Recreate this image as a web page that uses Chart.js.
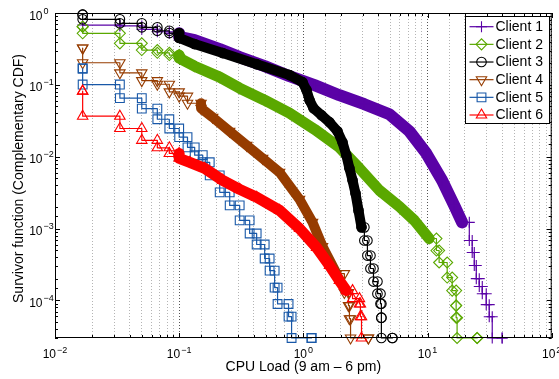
<!DOCTYPE html>
<html>
<head>
<meta charset="utf-8">
<script src="https://cdn.jsdelivr.net/npm/chart.js@4.4.1/dist/chart.umd.min.js"></script>
<style>
  html, body { margin: 0; padding: 0; background: #fff; }
  #wrap { width: 559px; height: 379px; position: relative; }
</style>
</head>
<body>
<div id="wrap"><canvas id="myChart"></canvas></div>
<script>
// CPU load (x) and survivor function (y) for each client
const c1Load = [0.0167, 0.0333, 0.05, 0.0667, 0.0833, 0.1, 0.133, 0.212, 0.307, 0.488, 0.774, 1.23, 1.95, 3.10, 4.93, 7.14, 9.78, 13.1, 16.4, 19.0, 21.7, 22.9, 23.8, 24.7, 26.1, 27.6, 29.7, 31.4, 33.2, 39.9];
const c1Surv = [0.68, 0.66, 0.593, 0.548, 0.521, 0.467, 0.42, 0.315, 0.243, 0.182, 0.132, 0.099, 0.0718, 0.0538, 0.039, 0.0226, 0.0111, 0.00469, 0.0021, 0.00122, 0.000682, 0.000464, 0.000306, 0.000201, 0.000156, 0.000124, 0.0000873, 0.0000594, 0.00003, 0.00003];

const c2Load = [0.0167, 0.0167, 0.0333, 0.05, 0.0667, 0.0833, 0.1, 0.133, 0.212, 0.307, 0.488, 0.774, 1.23, 1.95, 2.83, 4.10, 5.93, 7.83, 10.3, 11.8, 12.4, 14.4, 15.8, 17.0, 17.0, 17.3, 25.1];
const c2Surv = [0.644, 0.521, 0.378, 0.305, 0.279, 0.26, 0.236, 0.182, 0.128, 0.0899, 0.0612, 0.0403, 0.0241, 0.0135, 0.00689, 0.0034, 0.00203, 0.0013, 0.000727, 0.000495, 0.000337, 0.000208, 0.000137, 0.0000847, 0.0000575, 0.00003, 0.00003];

const c3Load = [0.0167, 0.0167, 0.0333, 0.05, 0.0667, 0.0833, 0.1, 0.133, 0.224, 0.421, 0.774, 0.985, 1.061, 1.122, 1.208, 1.401, 1.624, 1.883, 2.066, 2.22, 2.35, 2.49, 2.63, 2.78, 2.94, 3.10, 3.28, 3.47, 3.67, 3.95, 4.18, 4.25, 4.25, 5.21];
const c3Surv = [0.947, 0.817, 0.718, 0.632, 0.566, 0.526, 0.45, 0.37, 0.277, 0.194, 0.137, 0.109, 0.0844, 0.0612, 0.0473, 0.0378, 0.0302, 0.0226, 0.0159, 0.01046, 0.00689, 0.00469, 0.00309, 0.00179, 0.00104, 0.000682, 0.000421, 0.000278, 0.000183, 0.000124, 0.0000901, 0.0000575, 0.00003, 0.00003];

const c4Load = [0.0167, 0.0167, 0.0333, 0.05, 0.0667, 0.0833, 0.1, 0.1167, 0.15, 0.186, 0.255, 0.35, 0.47, 0.644, 0.932, 1.186, 1.427, 1.849, 2.14, 2.31, 2.35, 2.40, 3.34];
const c4Surv = [0.325, 0.203, 0.147, 0.1145, 0.102, 0.0798, 0.0696, 0.0555, 0.0473, 0.0354, 0.0226, 0.0144, 0.0095, 0.00606, 0.00255, 0.00122, 0.000563, 0.000236, 0.000129, 0.0000847, 0.0000557, 0.00003, 0.00003];

const c5Load = [0.0167, 0.0167, 0.0333, 0.05, 0.0667, 0.0833, 0.1, 0.1167, 0.1333, 0.1548, 0.1762, 0.212, 0.2552, 0.307, 0.3694, 0.4206, 0.488, 0.535, 0.587, 0.62, 0.76, 0.804, 1.164];
const c5Surv = [0.169, 0.101, 0.0653, 0.0466, 0.0332, 0.0247, 0.0187, 0.0135, 0.0105, 0.00836, 0.0055, 0.00319, 0.0021, 0.0013, 0.000855, 0.0006, 0.000383, 0.00026, 0.000151, 0.0000893, 0.0000594, 0.00003, 0.00003];

const c6Load = [0.0167, 0.0167, 0.0333, 0.05, 0.0667, 0.0833, 0.1, 0.1217, 0.1606, 0.224, 0.307, 0.421, 0.644, 0.932, 1.277, 1.624, 1.95, 2.22, 2.49, 2.83, 2.88, 2.94];
const c6Surv = [0.0817, 0.0366, 0.0247, 0.0169, 0.0133, 0.0111, 0.0095, 0.00836, 0.00689, 0.00469, 0.00351, 0.00272, 0.00179, 0.001, 0.000545, 0.000306, 0.000189, 0.000137, 0.000106, 0.0000893, 0.0000594, 0.00003];

const clientNames = ['Client 1', 'Client 2', 'Client 3', 'Client 4', 'Client 5', 'Client 6'];
const xTickExps = [-2, -1, 0, 1, 2];
const yTickExps = [-4, -3, -2, -1, 0];
const xTitle = 'CPU Load (9 am \u2013 6 pm)';
const yTitle = 'Survivor function (Complementary CDF)';

// styling
const colors = ['#5a02a6', '#5aa800', '#000000', '#963c00', '#1858a8', '#ff0000'];
const markers = ['cross', 'rectRot', 'circle', 'triangle', 'rect', 'triangle'];
const rotations = [0, 0, 0, 180, 0, 0];
const radii = [5.5, 5.5, 4.8, 6, 6.2, 6];
// where the markers are so dense they merge into a solid band
const bands = [[0.1, 21], [0.1, 11], [0.1, 3.0], [0.15, 2.1], null, [0.1, 2.3]];
const bandWidths = [12, 11, 10, 10, 0, 11];

const loads = [c1Load, c2Load, c3Load, c4Load, c5Load, c6Load];
const survs = [c1Surv, c2Surv, c3Surv, c4Surv, c5Surv, c6Surv];

const FONT = '"Liberation Sans", Arial, Helvetica, sans-serif';

// stairs (markers on both corners) outside the dense band
function buildPoints(xs, ys, band) {
    let pts = [];
    for (let i = 0; i < xs.length; i++) {
        const dense = band && i > 0 && xs[i - 1] >= band[0] && xs[i] <= band[1];
        if (i > 0 && !dense) pts.push({ x: xs[i], y: ys[i - 1] });
        pts.push({ x: xs[i], y: ys[i] });
    }
    return pts;
}

function isDecade(v) {
    const l = Math.log10(v);
    return Math.abs(l - Math.round(l)) < 1e-6;
}

function expText(e) {
    return e < 0 ? '\u2212' + (-e) : String(e);
}

const framePlugin = {
    id: 'frame',
    afterDraw(chart) {
        const ctx = chart.ctx;
        const a = chart.chartArea;
        const xs = chart.scales.x;
        const ys = chart.scales.y;
        ctx.save();

        // box
        ctx.strokeStyle = '#000';
        ctx.lineWidth = 1;
        ctx.strokeRect(a.left + 0.5, a.top + 0.5, a.right - a.left - 1, a.bottom - a.top - 1);

        // inner ticks
        ctx.beginPath();
        xs.ticks.forEach(t => {
            const px = Math.round(xs.getPixelForValue(t.value)) + 0.5;
            const len = isDecade(t.value) ? 5 : 3;
            ctx.moveTo(px, a.bottom); ctx.lineTo(px, a.bottom - len);
            ctx.moveTo(px, a.top); ctx.lineTo(px, a.top + len);
        });
        ys.ticks.forEach(t => {
            const py = Math.round(ys.getPixelForValue(t.value)) + 0.5;
            const len = isDecade(t.value) ? 5 : 3;
            ctx.moveTo(a.left, py); ctx.lineTo(a.left + len, py);
            ctx.moveTo(a.right, py); ctx.lineTo(a.right - len, py);
        });
        ctx.stroke();

        // tick labels 10^n
        ctx.fillStyle = '#000';
        ctx.textBaseline = 'alphabetic';
        yTickExps.forEach(e => {
            const py = ys.getPixelForValue(Math.pow(10, e));
            ctx.font = '12px ' + FONT;
            ctx.textAlign = 'right';
            ctx.fillText('10', a.left - 12.5, py + 6.5);
            ctx.font = '9px ' + FONT;
            ctx.textAlign = 'left';
            ctx.fillText(expText(e), a.left - 11.5, py + 0.5);
        });
        xTickExps.forEach(e => {
            const px = xs.getPixelForValue(Math.pow(10, e));
            ctx.font = '12px ' + FONT;
            const w1 = ctx.measureText('10').width;
            ctx.font = '9px ' + FONT;
            const w2 = ctx.measureText(expText(e)).width;
            const start = px - (w1 + 1 + w2) / 2;
            ctx.textAlign = 'left';
            ctx.font = '12px ' + FONT;
            ctx.fillText('10', start, a.bottom + 20);
            ctx.font = '9px ' + FONT;
            ctx.fillText(expText(e), start + w1 + 1, a.bottom + 14.5);
        });

        // axis titles
        ctx.font = '14px ' + FONT;
        ctx.textAlign = 'center';
        ctx.fillText(xTitle, (a.left + a.right) / 2, a.bottom + 33);
        ctx.save();
        ctx.translate(22.5, (a.top + a.bottom) / 2 + 3);
        ctx.rotate(-Math.PI / 2);
        ctx.fillText(yTitle, 0, 0);
        ctx.restore();

        // legend box
        const lx = 465.5, ly = 16.5, lw = 84, lh = 107;
        ctx.fillStyle = '#fff';
        ctx.fillRect(lx, ly, lw, lh);
        ctx.strokeStyle = '#000';
        ctx.strokeRect(lx, ly, lw, lh);
        clientNames.forEach((name, i) => {
            const ry = ly + 10.2 + i * 17.66;
            ctx.strokeStyle = colors[i];
            ctx.lineWidth = 1.2;
            ctx.beginPath();
            ctx.moveTo(lx + 4, ry); ctx.lineTo(lx + 28, ry);
            ctx.stroke();
            ctx.fillStyle = 'rgba(0,0,0,0)';
            ctx.lineWidth = 1.1;
            Chart.helpers.drawPoint(ctx, {
                pointStyle: markers[i], rotation: rotations[i], radius: radii[i], borderWidth: 1.1
            }, lx + 16, ry);
            ctx.fillStyle = '#000';
            ctx.font = '14px ' + FONT;
            ctx.textAlign = 'left';
            ctx.textBaseline = 'middle';
            ctx.fillText(name, lx + 30, ry + 0.5);
        });
        ctx.restore();
    }
};

const datasets = loads.map((xs, i) => ({
    label: clientNames[i],
    data: buildPoints(xs, survs[i], bands[i]),
    borderColor: colors[i],
    backgroundColor: 'rgba(0,0,0,0)',
    borderWidth: 1.2,
    borderJoinStyle: 'round',
    borderCapStyle: 'round',
    pointStyle: markers[i],
    pointRotation: rotations[i],
    pointRadius: radii[i],
    pointHoverRadius: radii[i],
    pointBorderWidth: 1.1,
    pointBorderColor: colors[i],
    pointBackgroundColor: 'rgba(0,0,0,0)',
    tension: 0,
    clip: false,
    order: 6 - i,
    segment: {
        borderWidth: s => {
            const b = bands[i];
            if (b && s.p0.parsed.x >= b[0] && s.p1.parsed.x <= b[1]) return bandWidths[i];
            return undefined;
        }
    }
}));

new Chart(document.getElementById('myChart').getContext('2d'), {
    type: 'line',
    data: { datasets: datasets },
    options: {
        responsive: true,
        maintainAspectRatio: false,
        animation: false,
        events: [],
        devicePixelRatio: 1,
        layout: { padding: { left: 55, right: 6, top: 13, bottom: 41 } },
        plugins: { legend: { display: false }, tooltip: { enabled: false } },
        scales: {
            x: {
                type: 'logarithmic',
                min: 0.01,
                max: 100,
                ticks: { display: false, autoSkip: false },
                border: { display: false, dash: [1, 2] },
                grid: {
                    drawTicks: false,
                    lineWidth: 1,
                    color: c => (c.tick && isDecade(c.tick.value)) ? '#555555' : '#b4b4b4'
                }
            },
            y: {
                type: 'logarithmic',
                min: 0.00003,
                max: 1,
                ticks: { display: false, autoSkip: false },
                border: { display: false },
                grid: { display: false, drawTicks: false }
            }
        }
    },
    plugins: [framePlugin]
});
</script>
</body>
</html>
